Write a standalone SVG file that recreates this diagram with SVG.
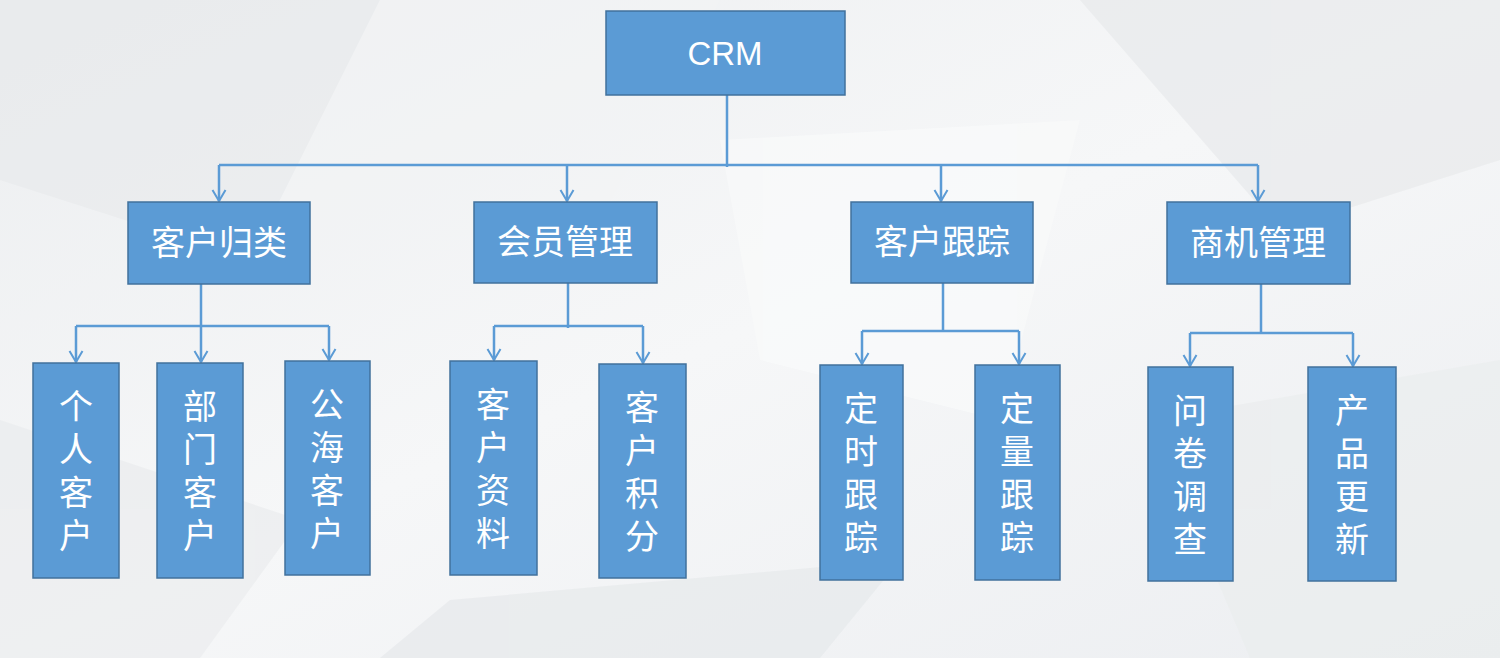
<svg xmlns="http://www.w3.org/2000/svg" width="1500" height="658" viewBox="0 0 1500 658">
<style>
.box{fill:#5b9bd5;stroke:#41719c;stroke-width:1.5}
.t{fill:#fff;font-family:"Liberation Sans","Noto Sans CJK SC",sans-serif;text-anchor:middle;dominant-baseline:central}
.crm{font-size:33px}
.h{font-size:34px}
.v{font-size:34px}
.c{fill:none;stroke:#5b9bd5;stroke-width:2.5}
.bg{stroke:none}
</style>
<defs>
<linearGradient id="g" x1="0" y1="0" x2="1" y2="1">
<stop offset="0" stop-color="#eceef0"/>
<stop offset="0.5" stop-color="#f6f7f8"/>
<stop offset="1" stop-color="#eceef1"/>
</linearGradient>
<marker id="a" viewBox="0 0 14 16" refX="12" refY="8" markerWidth="14" markerHeight="16" markerUnits="userSpaceOnUse" orient="auto">
<path d="M1,1.5 L12,8 L1,14.5" fill="none" stroke="#5b9bd5" stroke-width="2"/>
</marker>
</defs>
<rect width="1500" height="658" fill="url(#g)"/>
<g class="bg" opacity="0.6">
<polygon points="0,0 380,0 250,260 0,180" fill="#e8eaec"/>
<polygon points="380,0 720,0 600,220 250,260" fill="#f3f4f5"/>
<polygon points="1080,0 1500,0 1500,160 1280,230" fill="#e6e8ea"/>
<polygon points="720,140 1080,120 1000,420 760,360" fill="#fafbfb"/>
<polygon points="0,420 300,520 200,658 0,658" fill="#e9ebed"/>
<polygon points="1150,420 1500,360 1500,658 1250,658" fill="#eaeced"/>
<polygon points="450,600 900,560 820,658 380,658" fill="#e5e7ea"/>
</g>
<g id="connectors">
<path class="c" d="M727,95 V167"/>
<path class="c" d="M219,165 H1258"/>
<path class="c" d="M219,165 V201" marker-end="url(#a)"/>
<path class="c" d="M567,165 V201" marker-end="url(#a)"/>
<path class="c" d="M941,165 V201" marker-end="url(#a)"/>
<path class="c" d="M1258,165 V201" marker-end="url(#a)"/>
<path class="c" d="M201,284 V326"/>
<path class="c" d="M76,326 H329"/>
<path class="c" d="M76,326 V362" marker-end="url(#a)"/>
<path class="c" d="M201,326 V362" marker-end="url(#a)"/>
<path class="c" d="M329,326 V360" marker-end="url(#a)"/>
<path class="c" d="M568,283 V328"/>
<path class="c" d="M494,326 H643"/>
<path class="c" d="M494,326 V360" marker-end="url(#a)"/>
<path class="c" d="M643,326 V363" marker-end="url(#a)"/>
<path class="c" d="M943,283 V331"/>
<path class="c" d="M862,331 H1019"/>
<path class="c" d="M862,331 V364" marker-end="url(#a)"/>
<path class="c" d="M1019,331 V364" marker-end="url(#a)"/>
<path class="c" d="M1261,284 V333"/>
<path class="c" d="M1190,333 H1353"/>
<path class="c" d="M1190,333 V366" marker-end="url(#a)"/>
<path class="c" d="M1353,333 V366" marker-end="url(#a)"/>
</g>
<g id="crm"><rect class="box" x="606" y="11" width="239" height="84"/><text class="t crm" x="725" y="53">CRM</text></g>
<g id="khgl"><rect class="box" x="128" y="202" width="182" height="82"/><text class="t h" x="219" y="243">客户归类</text></g>
<g id="hygl"><rect class="box" x="474" y="202" width="183" height="81"/><text class="t h" x="565" y="242">会员管理</text></g>
<g id="khgz"><rect class="box" x="851" y="202" width="182" height="81"/><text class="t h" x="942" y="242">客户跟踪</text></g>
<g id="sjgl"><rect class="box" x="1167" y="202" width="183" height="82"/><text class="t h" x="1258" y="243">商机管理</text></g>
<g id="grkh"><rect class="box" x="33" y="363" width="86" height="215"/>
<text class="t v" x="76"><tspan x="76" y="407">个</tspan><tspan x="76" y="450">人</tspan><tspan x="76" y="493">客</tspan><tspan x="76" y="536">户</tspan></text></g>
<g id="bmkh"><rect class="box" x="157" y="363" width="86" height="215"/>
<text class="t v" x="200"><tspan x="200" y="407">部</tspan><tspan x="200" y="450">门</tspan><tspan x="200" y="493">客</tspan><tspan x="200" y="536">户</tspan></text></g>
<g id="ghkh"><rect class="box" x="285" y="361" width="85" height="214"/>
<text class="t v" x="327"><tspan x="327" y="405">公</tspan><tspan x="327" y="448">海</tspan><tspan x="327" y="491">客</tspan><tspan x="327" y="534">户</tspan></text></g>
<g id="khzl"><rect class="box" x="450" y="361" width="87" height="214"/>
<text class="t v" x="493"><tspan x="493" y="405">客</tspan><tspan x="493" y="448">户</tspan><tspan x="493" y="491">资</tspan><tspan x="493" y="534">料</tspan></text></g>
<g id="khjf"><rect class="box" x="599" y="364" width="87" height="214"/>
<text class="t v" x="642"><tspan x="642" y="408">客</tspan><tspan x="642" y="451">户</tspan><tspan x="642" y="494">积</tspan><tspan x="642" y="537">分</tspan></text></g>
<g id="dsgz"><rect class="box" x="820" y="365" width="83" height="215"/>
<text class="t v" x="861"><tspan x="861" y="409">定</tspan><tspan x="861" y="452">时</tspan><tspan x="861" y="495">跟</tspan><tspan x="861" y="538">踪</tspan></text></g>
<g id="dlgz"><rect class="box" x="975" y="365" width="85" height="215"/>
<text class="t v" x="1017"><tspan x="1017" y="409">定</tspan><tspan x="1017" y="452">量</tspan><tspan x="1017" y="495">跟</tspan><tspan x="1017" y="538">踪</tspan></text></g>
<g id="wjdc"><rect class="box" x="1148" y="367" width="85" height="214"/>
<text class="t v" x="1190"><tspan x="1190" y="411">问</tspan><tspan x="1190" y="454">卷</tspan><tspan x="1190" y="497">调</tspan><tspan x="1190" y="540">查</tspan></text></g>
<g id="cpgx"><rect class="box" x="1308" y="367" width="88" height="214"/>
<text class="t v" x="1352"><tspan x="1352" y="411">产</tspan><tspan x="1352" y="454">品</tspan><tspan x="1352" y="497">更</tspan><tspan x="1352" y="540">新</tspan></text></g>
</svg>
